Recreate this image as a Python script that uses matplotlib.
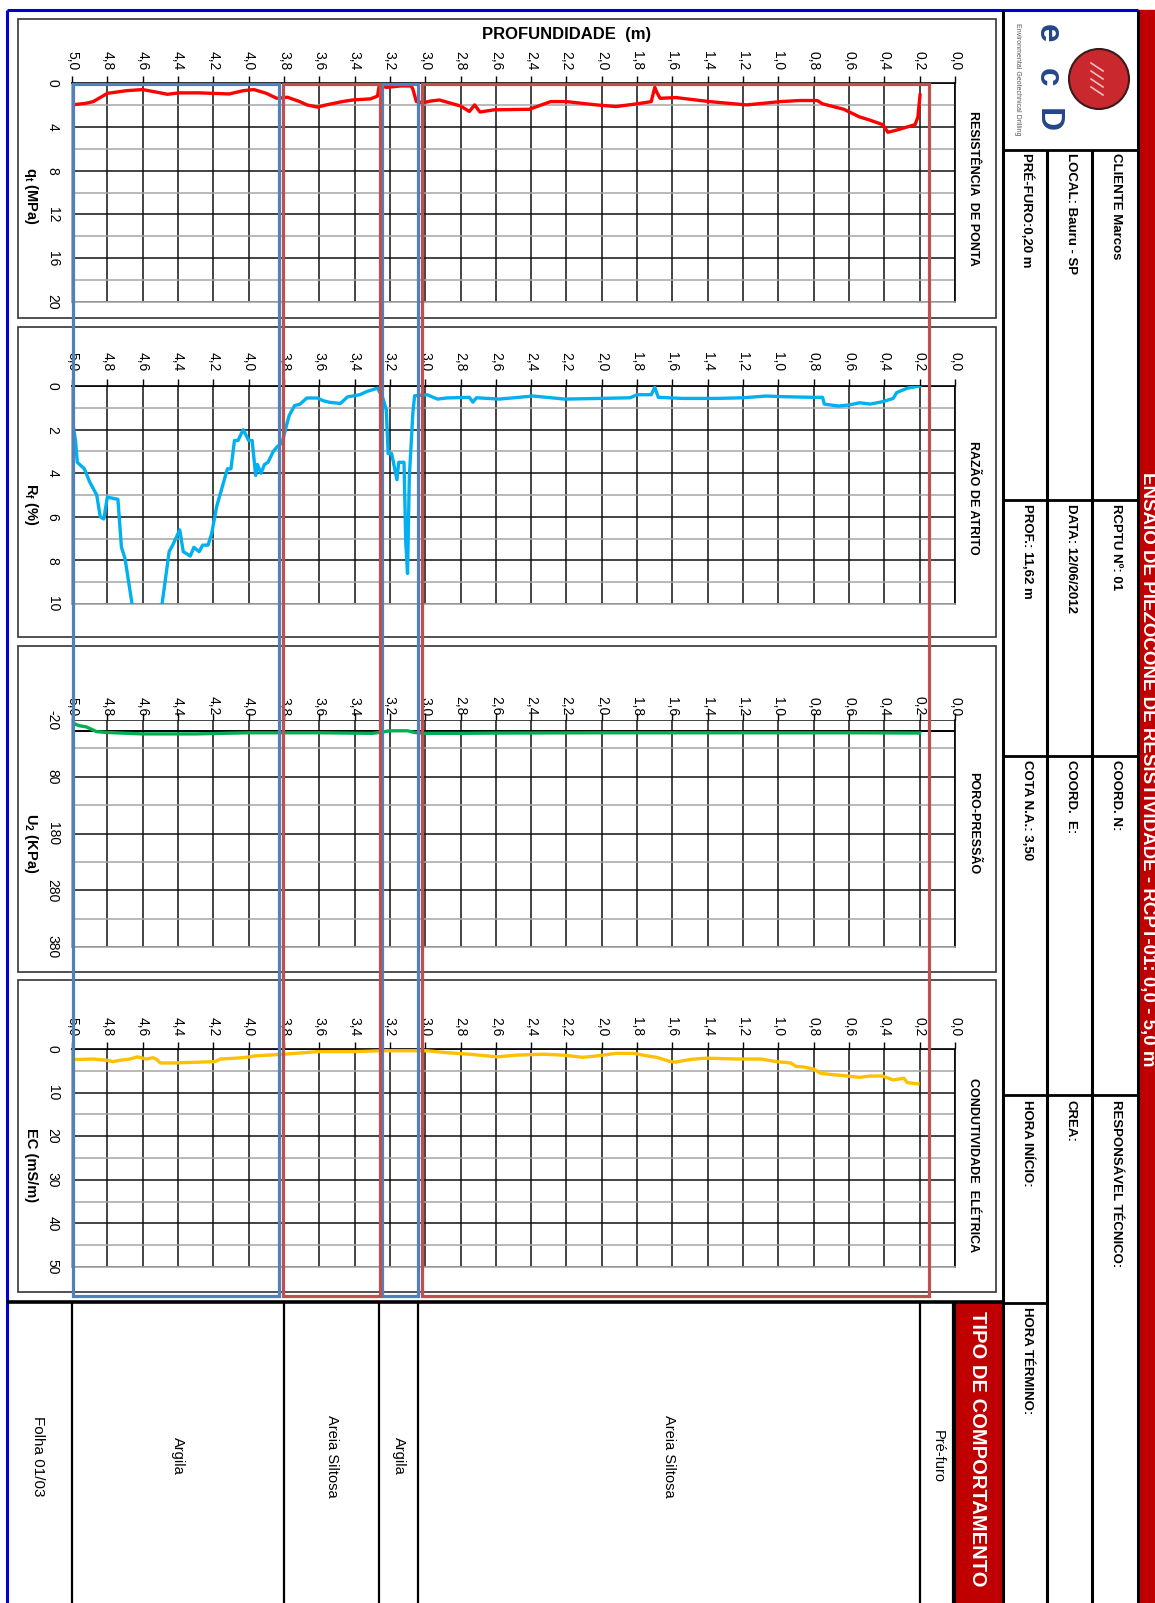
import numpy as np
import matplotlib.pyplot as plt
from matplotlib.patches import Rectangle, Circle

plt.rcParams['font.family'] = ['Liberation Sans', 'DejaVu Sans']
plt.rcParams['mathtext.fontset'] = 'custom'
plt.rcParams['mathtext.rm'] = 'Liberation Sans'
plt.rcParams['mathtext.bf'] = 'Liberation Sans:bold'
plt.rcParams['mathtext.it'] = 'Liberation Sans:italic'

W, H = 1155, 1603

qt_depth = [0.198, 0.21, 0.226, 0.33, 0.38, 0.41, 0.48, 0.54, 0.63, 0.75, 0.78, 0.88, 0.99,
            1.18, 1.39, 1.58, 1.67, 1.69, 1.70, 1.72, 1.80, 1.92, 2.03, 2.20, 2.29, 2.41,
            2.61, 2.69, 2.72, 2.75, 2.80, 2.92, 2.97, 3.01, 3.05, 3.07, 3.08, 3.14, 3.22,
            3.26, 3.27, 3.31, 3.41, 3.47, 3.56, 3.61, 3.67, 3.71, 3.78, 3.84, 3.90, 3.97,
            4.03, 4.11, 4.28, 4.39, 4.46, 4.50, 4.60, 4.69, 4.78, 4.80, 4.88, 4.92, 5.00]
qt_val = [1.1, 3.1, 3.8, 4.3, 4.5, 3.8, 3.4, 3.1, 2.4, 1.9, 1.6, 1.6, 1.7,
          2.0, 1.7, 1.33, 1.4, 0.8, 0.4, 1.7, 1.9, 2.15, 2.0, 1.7, 1.7, 2.4,
          2.45, 2.65, 2.0, 2.6, 2.1, 1.55, 1.65, 1.8, 1.7, 0.55, 0.27, 0.27, 0.4,
          0.2, 1.2, 1.45, 1.55, 1.7, 2.0, 2.2, 2.0, 1.7, 1.3, 1.4, 0.94, 0.6,
          0.7, 1.0, 0.9, 0.9, 1.03, 0.9, 0.6, 0.7, 0.9, 0.95, 1.7, 1.85, 2.0]

rf_depth = [0.20, 0.27, 0.33, 0.35, 0.41, 0.48, 0.54, 0.60, 0.66, 0.74, 0.75, 0.80, 0.97,
            1.07, 1.20, 1.35, 1.54, 1.68, 1.70, 1.72, 1.80, 1.84, 2.01, 2.21, 2.39, 2.58,
            2.71, 2.73, 2.75, 2.88, 2.93, 2.99, 3.06, 3.07, 3.09, 3.10, 3.11, 3.12, 3.15,
            3.16, 3.19, 3.21, 3.22, 3.24, 3.27, 3.33, 3.37, 3.44, 3.48, 3.54, 3.58, 3.61,
            3.67, 3.71, 3.74, 3.77, 3.79, 3.81, 3.84, 3.86, 3.89, 3.91, 3.93, 3.95, 3.96,
            3.98, 4.00, 4.03, 4.06, 4.08, 4.10, 4.12, 4.18, 4.21, 4.23, 4.26, 4.28, 4.31,
            4.33, 4.37, 4.39, 4.43, 4.45, 4.49, 4.53, 4.62, 4.66, 4.70, 4.72, 4.74, 4.80,
            4.82, 4.84, 4.86, 4.90, 4.93, 4.97, 4.98, 5.00]
rf_val = [0.0, 0.1, 0.3, 0.57, 0.72, 0.83, 0.77, 0.87, 0.92, 0.83, 0.52, 0.52, 0.49,
          0.46, 0.54, 0.57, 0.57, 0.52, 0.06, 0.40, 0.40, 0.54, 0.57, 0.60, 0.46, 0.60,
          0.54, 0.74, 0.52, 0.55, 0.60, 0.40, 0.45, 1.25, 4.2, 8.6, 7.2, 3.5, 3.5,
          4.3, 3.1, 3.1, 1.1, 0.55, 0.10, 0.25, 0.40, 0.50, 0.80, 0.75, 0.67, 0.55,
          0.55, 0.84, 0.90, 1.35, 1.95, 2.6, 2.8, 3.0, 3.5, 3.6, 4.0, 3.6, 4.1,
          2.5, 2.5, 2.0, 2.5, 2.5, 3.8, 3.8, 5.5, 6.8, 7.3, 7.3, 7.6, 7.4,
          7.8, 7.6, 6.6, 7.3, 7.6, 10.0, 11.5, 11.5, 10.0, 7.9, 7.4, 5.2, 5.1,
          6.1, 6.0, 5.0, 4.4, 3.8, 3.5, 2.5, 1.5]

u2_depth = [0.20, 0.60, 1.00, 1.60, 2.00, 2.60, 2.80, 3.00, 3.06, 3.10, 3.20, 3.25, 3.30,
            3.60, 4.00, 4.30, 4.60, 4.80, 4.86, 4.92, 4.96, 5.00]
u2_val = [3.0, 2.5, 2.5, 2.5, 2.5, 3.0, 3.5, 3.5, 2.0, -1.0, -1.0, 1.5, 3.5,
          2.5, 2.5, 4.5, 4.5, 2.0, 0.6, -8.0, -10.0, -15.0]

ec_depth = [0.21, 0.27, 0.29, 0.35, 0.41, 0.48, 0.54, 0.61, 0.76, 0.80, 0.86, 0.90, 0.93,
            1.01, 1.10, 1.23, 1.41, 1.50, 1.58, 1.61, 1.69, 1.74, 1.82, 1.92, 2.03, 2.11,
            2.22, 2.33, 2.48, 2.59, 2.75, 2.86, 2.99, 3.24, 3.41, 3.61, 3.80, 3.97, 4.01,
            4.07, 4.16, 4.19, 4.35, 4.43, 4.50, 4.52, 4.54, 4.58, 4.63, 4.67, 4.73, 4.77,
            4.80, 4.88, 4.97, 5.00]
ec_val = [8.0, 7.7, 6.7, 7.1, 6.2, 6.2, 6.5, 6.2, 5.6, 4.6, 4.1, 4.0, 3.2,
          2.9, 2.3, 2.3, 2.1, 2.4, 3.0, 2.9, 1.9, 1.6, 1.0, 1.0, 1.6, 1.9,
          1.4, 1.2, 1.4, 1.8, 1.2, 0.9, 0.4, 0.4, 0.6, 0.6, 1.2, 1.6, 1.9,
          2.1, 2.3, 2.9, 3.1, 3.2, 3.2, 2.4, 2.0, 2.3, 1.8, 2.3, 2.6, 2.9,
          2.6, 2.3, 2.4, 2.4]

depth_ticks = np.round(np.arange(0, 5.01, 0.2), 1)
qt_ticks, qt_minor = [0, 4, 8, 12, 16, 20], [2, 6, 10, 14, 18]
rf_ticks, rf_minor = [0, 2, 4, 6, 8, 10], [1, 3, 5, 7, 9]
u2_ticks, u2_minor = [-20, 80, 180, 280, 380], [30, 130, 230, 330]
ec_ticks, ec_minor = [0, 10, 20, 30, 40, 50], [5, 15, 25, 35, 45]

# soil behaviour layers
layer_bounds = [0.0, 0.2, 3.04, 3.26, 3.80, 5.0]
layer_names = ['Pré-furo', 'Areia Siltosa', 'Argila', 'Areia Siltosa', 'Argila']
box_from = [0.15, 3.04, 3.255, 3.83]
box_to = [3.02, 3.245, 3.805, 4.995]
box_kind = ['Areia Siltosa', 'Argila', 'Areia Siltosa', 'Argila']

header_cols = [
    ['CLIENTE Marcos', 'RCPTU Nº: 01', 'COORD. N:', 'RESPONSÁVEL TÉCNICO:'],
    ['LOCAL: Bauru - SP', 'DATA: 12/06/2012', 'COORD.  E:', 'CREA:'],
    ['PRÉ-FURO:0,20 m', 'PROF.: 11,62 m', 'COTA N.A.: 3,50', 'HORA INÍCIO:', 'HORA TÉRMINO:'],
]

fig = plt.figure(figsize=(W / 100, H / 100), dpi=100)
bg = fig.add_axes([0, 0, 1, 1], zorder=0)
bg.set_xlim(0, W)
bg.set_ylim(H, 0)
bg.axis('off')


def seg(x0, y0, x1, y1, color='k', lw=1.0, z=2):
    bg.plot([x0, x1], [y0, y1], color=color, lw=lw, solid_capstyle='butt', zorder=z)


def rtext(x, y, s, va='center', **kw):
    bg.text(x, y, s, rotation=-90, ha='center', va=va, rotation_mode='default', **kw)


def fmt(v):
    return f'{v:.1f}'.replace('.', ',')


X0, X1 = 72, 955
panels = [
    dict(d=qt_depth, v=qt_val, c='#FF0000', lim=(20, 0), t=qt_ticks, m=qt_minor,
         title='RESISTÊNCIA  DE PONTA', ty=188, lab=r'$\mathbf{q_t}$ (MPa)', ly=196,
         top=83, bot=302, frame=(18, 19, 996, 318), pad=4.3),
    dict(d=rf_depth, v=rf_val, c='#00B0F0', lim=(10, 0), t=rf_ticks, m=rf_minor,
         title='RAZÃO DE ATRITO', ty=498, lab=r'$\mathbf{R_f}$ (%)', ly=504,
         top=386, bot=604, frame=(18, 327, 996, 637), pad=5.8),
    dict(d=u2_depth, v=u2_val, c='#00B050', lim=(380, -20), t=u2_ticks, m=u2_minor,
         title='PORO-PRESSÃO', ty=823, lab=r'$\mathbf{U_2}$ (KPa)', ly=843,
         top=720, bot=947, frame=(18, 646, 996, 972), pad=-2.0),
    dict(d=ec_depth, v=ec_val, c='#FFC000', lim=(50, 0), t=ec_ticks, m=ec_minor,
         title='CONDUTIVIDADE  ELÉTRICA', ty=1165, lab='EC (mS/m)', ly=1165,
         top=1049, bot=1267, frame=(18, 980, 996, 1292), pad=4.3),
]

axes = []
for p in panels:
    fx0, fy0, fx1, fy1 = p['frame']
    bg.add_patch(Rectangle((fx0, fy0), fx1 - fx0, fy1 - fy0, fill=False,
                           ec='#333333', lw=1.2, zorder=1))
    ax = fig.add_axes([X0 / W, 1 - p['bot'] / H, (X1 - X0) / W, (p['bot'] - p['top']) / H],
                      zorder=1)
    ax.set_xlim(5.0, 0.0)
    ax.set_ylim(*p['lim'])
    ax.xaxis.set_ticks_position('top')
    ax.set_xticks(depth_ticks, [fmt(v) for v in depth_ticks], rotation=-90,
                  ha='center', va='bottom', fontsize=10)
    ax.set_yticks(p['t'], [str(v) for v in p['t']], rotation=-90, ha='right',
                  va='center', fontsize=10)
    ax.set_yticks(p['m'], minor=True)
    ax.tick_params(axis='x', length=5, width=1, pad=p['pad'], color='k')
    ax.tick_params(axis='y', which='both', length=0, pad=9)
    ax.grid(axis='x', which='major', color='#111111', lw=1.1)
    ax.grid(axis='y', which='major', color='#111111', lw=1.1)
    ax.grid(axis='y', which='minor', color='#A6A6A6', lw=1.1)
    ax.set_axisbelow(True)
    for side, col in (('top', 'k'), ('right', 'k'), ('bottom', '#A6A6A6'), ('left', '#A6A6A6')):
        ax.spines[side].set_color(col)
        ax.spines[side].set_linewidth(1.2)
    if p['lim'][1] < 0:
        ax.spines['top'].set_visible(False)
        ax.axhline(0, color='k', lw=1.4, zorder=1.5)
    ax.plot(p['d'], p['v'], color=p['c'], lw=2.4, zorder=3, solid_joinstyle='round')
    rtext(973, p['ty'], p['title'], fontsize=9, fontweight='bold')
    rtext(31, p['ly'], p['lab'], fontsize=10.5, fontweight='bold')
    axes.append(ax)

bg.text(567, 35, 'PROFUNDIDADE  (m)', ha='center', va='center', fontsize=12,
        fontweight='bold')

# depth -> pixel along x, through the first chart's scale
ax1 = axes[0]


def dx(d):
    return ax1.transData.transform([[d, 0]])[0, 0]


# overlay boxes of behaviour type
ov = fig.add_axes([0, 0, 1, 1], zorder=5)
ov.set_xlim(0, W)
ov.set_ylim(H, 0)
ov.axis('off')
kind_color = {'Areia Siltosa': '#C0504D', 'Argila': '#4F81BD'}
for a, b, k in zip(box_from, box_to, box_kind):
    xa, xb = dx(b), dx(a)
    ov.add_patch(Rectangle((xa, 84), xb - xa, 1296 - 84, fill=False,
                           ec=kind_color[k], lw=2.3, joinstyle='miter'))

# page border and header
seg(7, 10, 1138, 10, color='#0000CC', lw=2.2)
seg(7, 10, 7, H, color='#0000CC', lw=2.2)
bg.add_patch(Rectangle((1138, 10), W - 1138, H - 10, color='#C00000', zorder=1))
rtext(1148, 472, 'ENSAIO DE PIEZOCONE DE RESISTIVIDADE - RCPT-01: 0,0 - 5,0 m',
      va='top', fontsize=13.5, fontweight='bold', color='white', zorder=3)

for x in (1003, 1138):
    seg(x, 10, x, H, lw=2.2)
for x in (1047, 1092):
    seg(x, 150, x, H, lw=2.2)
for y in (150, 500, 756, 1095):
    seg(1003, y, 1138, y, lw=2.0)
seg(1003, 1303, 1047, 1303, lw=2.0)

row_y = [153, 504, 760, 1100, 1307]
col_x = [1116, 1071, 1027]
for cx, items in zip(col_x, header_cols):
    for ry, s in zip(row_y, items):
        rtext(cx, ry, s, va='top', fontsize=9.5, fontweight='bold')

# logo
bg.add_patch(Circle((1099, 79), 30, fc='#C8282E', ec='#3A1A1A', lw=1.5, zorder=3))
for yy in (67, 75, 83, 91):
    bg.plot([1091, 1103], [yy - 4, yy + 4], color='#F0C0C0', lw=1.2, zorder=4)
for s, yy in (('e', 33), ('c', 77), ('D', 120)):
    rtext(1047, yy, s, fontsize=24, fontweight='bold', color='#24468A', zorder=3)
rtext(1018, 79, 'Environmental Geotechnical Drilling', fontsize=5, color='#555555')

# soil behaviour table
seg(7, 1302, 1003, 1302, lw=2.6)
for d in layer_bounds:
    x = dx(d)
    seg(x, 1302, x, H, lw=1.6)
seg(953, 1302, 953, H, lw=1.6)
bg.add_patch(Rectangle((955, 1303), 1002 - 955, H - 1303, color='#C00000', zorder=1))
rtext(978, 1311, 'TIPO DE COMPORTAMENTO', va='top', fontsize=14.5, fontweight='bold',
      color='white', zorder=3)
for a, b, name in zip(layer_bounds[:-1], layer_bounds[1:], layer_names):
    rtext((dx(a) + dx(b)) / 2, 1456, name, fontsize=10.5)
rtext(38, 1456, 'Folha 01/03', fontsize=11)

fig.savefig('out.png', dpi=100)
